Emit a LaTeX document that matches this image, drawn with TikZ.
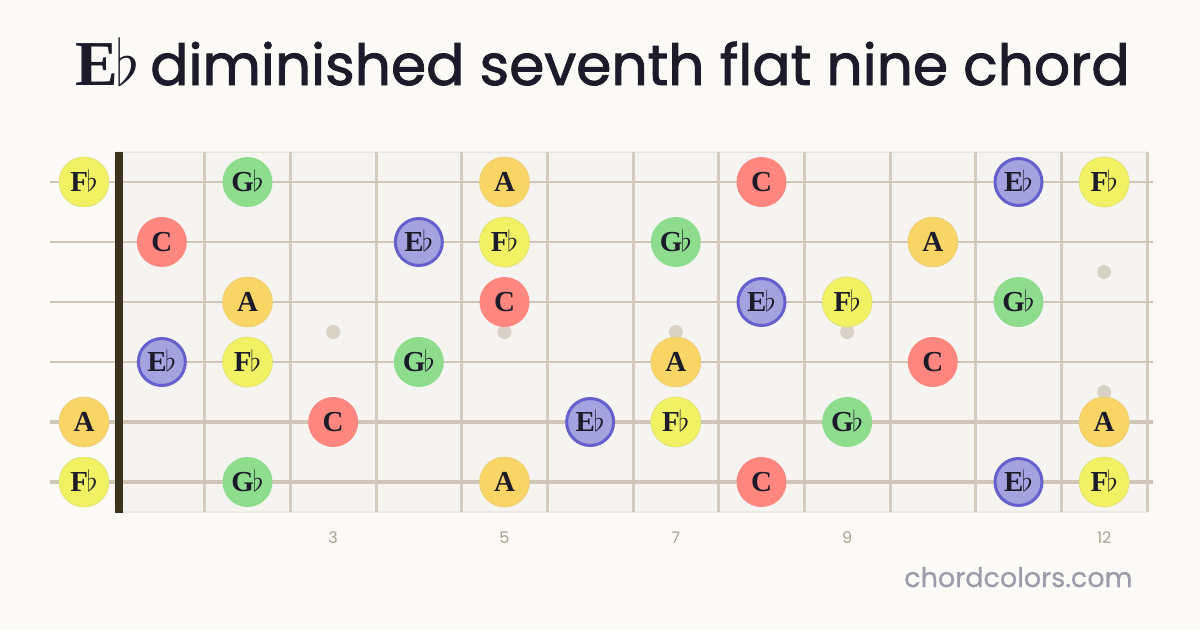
\RequirePackage{fix-cm}
\documentclass[tikz,border=0pt]{standalone}
\usepackage{fontspec}
\setmainfont{Liberation Serif}
\newfontfamily\titlefont[FakeBold=1.6]{Poppins}
\newfontfamily\smallfont{Poppins}
\newfontfamily\footfont[FakeBold=0.6]{Poppins}
\definecolor{bg}{HTML}{FBFAF6}
\definecolor{board}{HTML}{F6F4F0}
\definecolor{boardedge}{HTML}{E2DDD5}
\definecolor{fretc}{HTML}{D4CCBF}
\definecolor{stringc}{HTML}{CFC6B8}
\definecolor{nutc}{HTML}{3A3322}
\definecolor{dotc}{HTML}{D8D2C6}
\definecolor{ink}{HTML}{1C1B29}
\definecolor{numc}{HTML}{A9A291}
\definecolor{footc}{HTML}{9C9BAB}
\definecolor{cF}{HTML}{F0F264}
\definecolor{cFb}{HTML}{DEDF70}
\definecolor{cG}{HTML}{8EDC8E}
\definecolor{cC}{HTML}{FF8780}
\definecolor{cA}{HTML}{F9D565}
\definecolor{cAb}{HTML}{EBCB78}
\definecolor{cE}{HTML}{A3A3E0}
\definecolor{cEb}{HTML}{6660CC}
\tikzset{
  note/.style={circle,minimum size=50pt,inner sep=0pt,text=ink,
    font=\bfseries\fontsize{29}{29}\selectfont,text height=19.5pt,text depth=0pt},
  nF/.style={note,fill=cF,draw=cFb,line width=0.6pt},
  nG/.style={note,fill=cG},
  nC/.style={note,fill=cC},
  nA/.style={note,fill=cA,draw=cAb,line width=0.6pt},
  nE/.style={note,fill=cE,draw=cEb,line width=3pt,minimum size=47pt},
  inlay/.style={circle,fill=dotc,minimum size=14pt,inner sep=0pt},
  fretnum/.style={text=numc,font=\smallfont\fontsize{16}{16}\selectfont}
}
\begin{document}
\begin{tikzpicture}[x=1pt,y=-1pt]
\useasboundingbox[fill=bg] (0,0) rectangle (1200,630);
% title
\node[anchor=base west,text=ink,inner sep=0pt] (title) at (75,85)
  {\fontsize{64}{64}\selectfont\textbf{E}\kern-2pt$\flat$\kern10pt{\titlefont\fontsize{56.7}{56.7}\selectfont diminished seventh flat nine chord}};
% board
\path[fill=board,draw=boardedge,line width=1pt,rounded corners=2pt] (115,152) rectangle (1148,512);
% frets
\foreach \i in {1,...,12}{
  \draw[fretc,line width=3pt] ({119+85.667*\i},152) -- ({119+85.667*\i},512);
}
% inlays
\foreach \f in {3,5,7,9}{
  \node[inlay] (dot\f) at ({119+85.667*(\f-0.5)},332) {};
}
\node[inlay] (dot12a) at ({119+85.667*11.5},272) {};
\node[inlay] (dot12b) at ({119+85.667*11.5},392) {};
% strings
\foreach \s/\w in {1/1.6,2/2.0,3/2.4,4/2.8,5/3.3,6/3.8}{
  \draw[stringc,line width=\w pt] (50,{122+60*\s}) -- (1153,{122+60*\s});
}
% nut
\fill[nutc] (115,152) rectangle (123,513);
% notes: string/fret/style/label
\foreach \s/\f/\st/\lab in {
  1/0/nF/F, 1/2/nG/G, 1/5/nA/A, 1/8/nC/C, 1/11/nE/E, 1/12/nF/F,
  2/1/nC/C, 2/4/nE/E, 2/5/nF/F, 2/7/nG/G, 2/10/nA/A,
  3/2/nA/A, 3/5/nC/C, 3/8/nE/E, 3/9/nF/F, 3/11/nG/G,
  4/1/nE/E, 4/2/nF/F, 4/4/nG/G, 4/7/nA/A, 4/10/nC/C,
  5/0/nA/A, 5/3/nC/C, 5/6/nE/E, 5/7/nF/F, 5/9/nG/G, 5/12/nA/A,
  6/0/nF/F, 6/2/nG/G, 6/5/nA/A, 6/8/nC/C, 6/11/nE/E, 6/12/nF/F}{
  \ifnum\f=0
    \def\xx{84}
  \else
    \pgfmathsetmacro\xx{119+85.667*(\f-0.5)}
  \fi
  \if\lab A
    \node[\st] (n\s-\f) at (\xx,{122+60*\s}) {A};
  \else\if\lab C
    \node[\st] (n\s-\f) at (\xx,{122+60*\s}) {C};
  \else
    \node[\st] (n\s-\f) at (\xx,{122+60*\s}) {\lab\kern-1.5pt$\flat$};
  \fi\fi
}
% fret numbers
\foreach \f in {3,5,7,9,12}{
  \node[fretnum,anchor=base] (fn\f) at ({119+85.667*(\f-0.5)},543) {\f};
}
% footer
\node[anchor=base east,text=footc,font=\footfont\fontsize{27}{27}\selectfont] (foot) at (1136,587) {chordcolors.com};
\end{tikzpicture}
\end{document}
